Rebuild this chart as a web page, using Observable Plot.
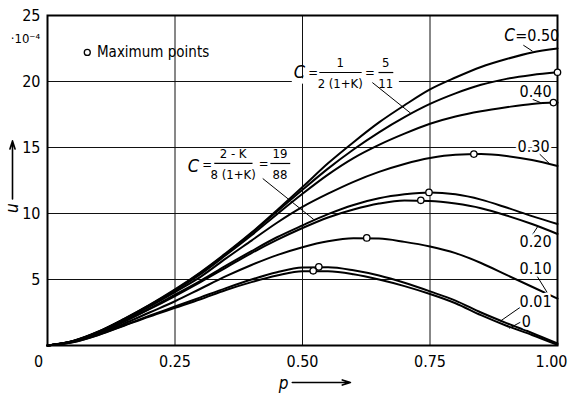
<!DOCTYPE html>
<html><head><meta charset="utf-8">
<script src="https://cdn.jsdelivr.net/npm/d3@7"></script>
<script src="https://cdn.jsdelivr.net/npm/@observablehq/plot@0.6"></script>
<style>body{margin:0;background:#fff}</style>
</head><body><div id="chart"></div>
<script>
// p values sampled along the curves
const pGrid = [0, .05, .1, .15, .2, .25, .3, .35, .4, .45, .5, .55, .6, .65, .7, .75, .8, .85, .9, .95, 1];
// u (×10^-4) for each C
const u_C050 = [0, 0.35, 1.06, 2.02, 3.08, 4.25, 5.55, 7.0, 8.55, 10.25, 12.0, 13.8, 15.4, 16.9, 18.2, 19.4, 20.3, 21.1, 21.7, 22.2, 22.5];
const u_C511 = [0, 0.34, 1.05, 2.0, 3.05, 4.2, 5.5, 6.95, 8.5, 10.15, 11.8, 13.4, 14.85, 16.15, 17.3, 18.3, 19.1, 19.75, 20.2, 20.5, 20.7];
const u_C040 = [0, 0.33, 1.03, 1.97, 3.0, 4.15, 5.4, 6.85, 8.35, 9.95, 11.5, 12.95, 14.2, 15.2, 16.05, 16.8, 17.35, 17.75, 18.05, 18.3, 18.4];
const u_C030 = [0, 0.32, 1.0, 1.9, 2.95, 4.05, 5.2, 6.6, 7.95, 9.3, 10.5, 11.5, 12.4, 13.15, 13.75, 14.2, 14.45, 14.5, 14.35, 14.05, 13.6];
const u_C1988 = [0, 0.3, 0.96, 1.82, 2.8, 3.85, 4.9, 6.05, 7.15, 8.2, 9.1, 9.95, 10.65, 11.15, 11.45, 11.6, 11.45, 11.05, 10.45, 9.8, 9.2];
const u_C020 = [0, 0.3, 0.95, 1.8, 2.75, 3.75, 4.8, 5.9, 7.0, 8.0, 8.9, 9.7, 10.3, 10.75, 10.98, 10.95, 10.75, 10.4, 9.85, 9.2, 8.45];
const u_C010 = [0, 0.28, 0.88, 1.65, 2.5, 3.35, 4.3, 5.25, 6.1, 6.85, 7.45, 7.9, 8.12, 8.1, 7.85, 7.5, 7.0, 6.25, 5.35, 4.45, 3.55];
const u_C001 = [0, 0.26, 0.82, 1.53, 2.25, 2.95, 3.65, 4.35, 5.0, 5.55, 5.9, 5.93, 5.7, 5.3, 4.75, 4.1, 3.4, 2.5, 1.7, 0.95, 0.15];
const u_C000 = [0, 0.25, 0.8, 1.5, 2.2, 2.85, 3.5, 4.2, 4.8, 5.3, 5.63, 5.62, 5.4, 5.0, 4.5, 3.9, 3.2, 2.3, 1.5, 0.8, 0.05];
const seriesNames = ["0.50", "5/11", "0.40", "0.30", "19/88", "0.20", "0.10", "0.01", "0"];
const seriesValues = [u_C050, u_C511, u_C040, u_C030, u_C1988, u_C020, u_C010, u_C001, u_C000];
// maximum points
const maxP = [1.0, 0.992, 0.836, 0.748, 0.732, 0.626, 0.532, 0.521];
const maxU = [20.7, 18.4, 14.5, 11.6, 11.0, 8.15, 5.96, 5.66];
// ticks
const xTicks = [0.25, 0.5, 0.75];
const xTickLabels = ["0.25", "0.50", "0.75"];
const xZeroLabel = "0";
const xEndLabel = "1.00";
const yTicks = [5, 10, 15, 20, 25];
const yTickLabels = ["5", "10", "15", "20", "25"];
const xGrid = [0.25, 0.5, 0.75];
const yGrid = [5, 10, 15, 20];

const rows = seriesNames.flatMap((name, i) => pGrid.map((p, j) => ({series: name, p, u: seriesValues[i][j]})));
const maxima = maxP.map((p, i) => ({p, u: maxU[i]}));

// right-side curve labels
const curveLabels = [
  {t: "0.40", p: 0.957, u: 19.24},
  {t: "0.30", p: 0.953, u: 15.08},
  {t: "0.20", p: 0.957, u: 7.88},
  {t: "0.10", p: 0.957, u: 5.83},
  {t: "0.01", p: 0.957, u: 3.33},
  {t: "0", p: 0.939, u: 1.82}
];
const leaders = [
  {p1: 0.933, u1: 22.75, p2: 0.951, u2: 22.3},
  {p1: 0.951, u1: 18.65, p2: 0.967, u2: 18.4},
  {p1: 0.965, u1: 14.5, p2: 0.985, u2: 13.75},
  {p1: 0.951, u1: 8.4, p2: 0.961, u2: 9.0},
  {p1: 0.96, u1: 5.25, p2: 0.98, u2: 4.0},
  {p1: 0.929, u1: 2.95, p2: 0.888, u2: 1.85},
  {p1: 0.929, u1: 1.8, p2: 0.905, u2: 1.3},
  {p1: 0.637, u1: 19.92, p2: 0.712, u2: 17.6},
  {p1: 0.422, u1: 12.65, p2: 0.522, u2: 9.55}
];
const fracBars = [
  {p1: 0.533, p2: 0.616, u: 20.68},
  {p1: 0.649, p2: 0.678, u: 20.68},
  {p1: 0.327, p2: 0.402, u: 13.79},
  {p1: 0.437, p2: 0.476, u: 13.79}
];
const fracTexts = [
  {t: "=", p: 0.521, u: 20.68},
  {t: "1", p: 0.574, u: 21.45},
  {t: "2 (1+K)", p: 0.574, u: 19.8},
  {t: "=", p: 0.632, u: 20.68},
  {t: "5", p: 0.663, u: 21.45},
  {t: "11", p: 0.663, u: 19.8},
  {t: "=", p: 0.313, u: 13.7},
  {t: "2 - K", p: 0.364, u: 14.5},
  {t: "8 (1+K)", p: 0.364, u: 12.9},
  {t: "=", p: 0.424, u: 13.79},
  {t: "19", p: 0.456, u: 14.5},
  {t: "88", p: 0.456, u: 12.9}
];

const FONT = "'DejaVu Sans Condensed', 'Liberation Sans Narrow', 'Roboto Condensed', 'DejaVu Sans', sans-serif";

const chart = Plot.plot({
  width: 568, height: 395,
  marginLeft: 47, marginRight: 11, marginTop: 15, marginBottom: 50,
  x: {domain: [0, 1], axis: null},
  y: {domain: [0, 25], axis: null},
  style: {fontFamily: FONT, fontSize: "15px", background: "white", color: "black", overflow: "visible"},
  marks: [
    Plot.ruleX(xGrid, {stroke: "#111", strokeWidth: 1}),
    Plot.ruleY(yGrid, {stroke: "#111", strokeWidth: 1}),
    Plot.rect([{x1: 0.48, x2: 0.69, y1: 19.8, y2: 20.2}], {x1: "x1", x2: "x2", y1: "y1", y2: "y2", fill: "white"}),
    Plot.frame({stroke: "black", strokeWidth: 2}),
    Plot.line(rows, {x: "p", y: "u", z: "series", curve: "monotone-x", stroke: "black", strokeWidth: 2}),
    Plot.link(leaders, {x1: "p1", y1: "u1", x2: "p2", y2: "u2", stroke: "black", strokeWidth: 1}),
    Plot.dot(maxima, {x: "p", y: "u", r: 3.2, fill: "white", stroke: "black", strokeWidth: 1.3}),
    // curve labels
    Plot.text(curveLabels, {x: "p", y: "u", text: "t", fontSize: 16, fill: "black", stroke: "white", strokeWidth: 5, paintOrder: "stroke"}),
    Plot.text([{p: 0.906, u: 23.48}], {x: "p", y: "u", text: () => "C", fontSize: 17, fontStyle: "italic"}),
    Plot.text([{p: 0.917, u: 23.48}], {x: "p", y: "u", text: () => "=0.50", fontSize: 16, textAnchor: "start"}),
    // formulas
    Plot.text([{p: 0.494, u: 20.68}, {p: 0.286, u: 13.6}], {x: "p", y: "u", text: () => "C", fontSize: 18, fontStyle: "italic"}),
    Plot.text(fracTexts, {x: "p", y: "u", text: "t", fontSize: 13}),
    Plot.link(fracBars, {x1: "p1", x2: "p2", y1: "u", y2: "u", stroke: "black", strokeWidth: 1.2}),
    // legend
    Plot.dot([{p: 0.078, u: 22.2}], {x: "p", y: "u", r: 3, fill: "white", stroke: "black", strokeWidth: 1.3}),
    Plot.text([{p: 0.097, u: 22.2}], {x: "p", y: "u", text: () => "Maximum points", textAnchor: "start", fontSize: 15}),
    // axes tick labels
    Plot.text(xTicks, {x: d => d, y: () => 0, text: (d, i) => xTickLabels[i], dy: 16, fontSize: 16}),
    Plot.text([0], {x: d => d, y: () => 0, text: () => xZeroLabel, dx: -9, dy: 16, fontSize: 16}),
    Plot.text([1], {x: d => d, y: () => 0, text: () => xEndLabel, dx: -6, dy: 16, fontSize: 16}),
    Plot.text(yTicks, {x: () => 0, y: d => d, text: (d, i) => yTickLabels[i], dx: -7, textAnchor: "end", fontSize: 16}),
    Plot.text([25], {x: () => 0, y: d => d, text: () => "·10⁻⁴", dx: -22, dy: 23, fontSize: 13}),
    // axis titles
    Plot.text([10.4], {x: () => 0, y: d => d, text: () => "u", dx: -35, rotate: -90, fontSize: 17, fontStyle: "italic"}),
    Plot.arrow([{x1: 0, y1: 11.1, x2: 0, y2: 15.5}], {x1: "x1", y1: "y1", x2: "x2", y2: "y2", dx: -35, strokeWidth: 1.6, headLength: 8, headAngle: 35}),
    Plot.text([0.463], {x: d => d, y: () => 0, text: () => "p", dy: 38, fontSize: 17, fontStyle: "italic"}),
    Plot.arrow([{x1: 0.48, y1: 0, x2: 0.594, y2: 0}], {x1: "x1", y1: "y1", x2: "x2", y2: "y2", dy: 37, strokeWidth: 1.6, headLength: 8, headAngle: 35})
  ]
});
document.getElementById("chart").appendChild(chart);
</script>
</body></html>
